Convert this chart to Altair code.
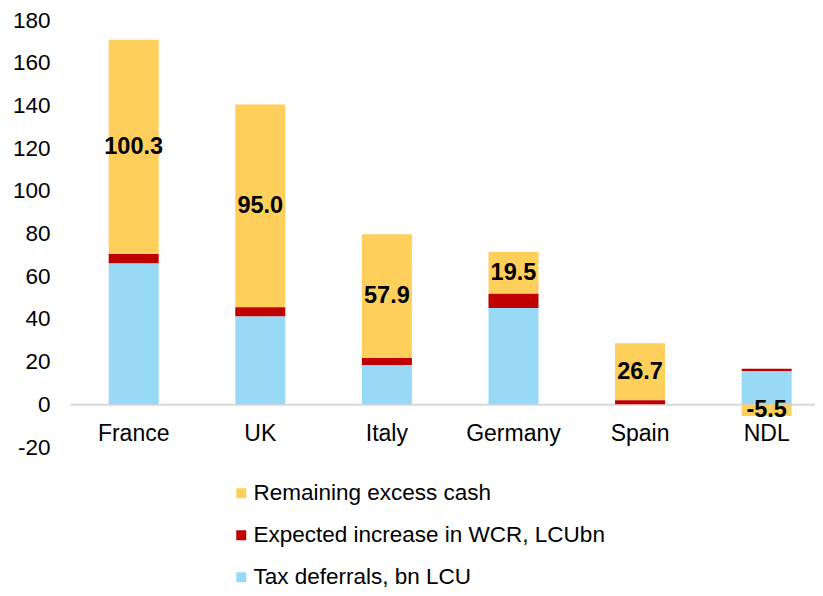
import altair as alt
import pandas as pd

countries = ["France", "UK", "Italy", "Germany", "Spain", "NDL"]
tax_deferrals = [66.0, 41.1, 18.4, 45.1, 0.0, 15.5]
wcr_increase = [4.4, 4.3, 3.3, 6.7, 1.9, 1.2]
excess_cash = [100.3, 95.0, 57.9, 19.5, 26.7, -5.5]

series_names = ["Remaining excess cash", "Expected increase in WCR, LCUbn", "Tax deferrals, bn LCU"]
series_colors = ["#FFCF5C", "#C00000", "#98DAF6"]
stack_order = [3, 2, 1]

rows = []
for i, c in enumerate(countries):
    for name, vals, o in zip(series_names, [excess_cash, wcr_increase, tax_deferrals], stack_order):
        rows.append({"country": c, "series": name, "value": vals[i], "order": o})
df = pd.DataFrame(rows)

lab = pd.DataFrame({
    "country": countries,
    "label": [f"{e:.1f}" for e in excess_cash],
    "pos": [(t + w + e / 2) if e >= 0 else e / 2 for t, w, e in zip(tax_deferrals, wcr_increase, excess_cash)],
})

FONT = "Liberation Sans"

x = alt.X("country:N", sort=countries, title=None,
          scale=alt.Scale(paddingInner=0.605, paddingOuter=0.245, align=0.624),
          axis=alt.Axis(labelAngle=0, labelFontSize=23, labelFont=FONT, labelColor="#000000",
                        ticks=False, domainColor="#D9D9D9", domainWidth=2, offset=-42.7,
                        labelPadding=18))

bars = alt.Chart(df).mark_bar(size=50).encode(
    x=x,
    y=alt.Y("value:Q", title=None, stack="zero",
            scale=alt.Scale(domain=[-20, 180], nice=False),
            axis=alt.Axis(values=list(range(-20, 181, 20)), grid=False, domain=False, ticks=False,
                          labelFontSize=22.5, labelFont=FONT, labelColor="#000000", labelPadding=20,
                          labelExpr="toString(datum.value)")),
    color=alt.Color("series:N", scale=alt.Scale(domain=series_names, range=series_colors),
                    title=None,
                    legend=alt.Legend(orient="none", legendX=160, legendY=462, direction="vertical",
                                      symbolType="square", symbolSize=100, symbolStrokeWidth=0,
                                      labelFontSize=22.5, labelFont=FONT, labelColor="#000000",
                                      rowPadding=19, labelOffset=1, labelLimit=500)),
    order=alt.Order("order:Q"),
)

texts = alt.Chart(lab).mark_text(fontSize=23.5, fontWeight="bold", font=FONT, color="#000000").encode(
    x=alt.X("country:N", sort=countries),
    y=alt.Y("pos:Q"),
    text=alt.Text("label:N"),
)

chart = alt.layer(bars, texts).properties(
    width=745, height=427,
    autosize=alt.AutoSizeParams(type="none"),
    padding={"left": 62, "top": 12, "right": 0, "bottom": 141},
).configure_view(stroke=None)

chart.save("out.html", embed_options={"renderer": "svg", "actions": False})
